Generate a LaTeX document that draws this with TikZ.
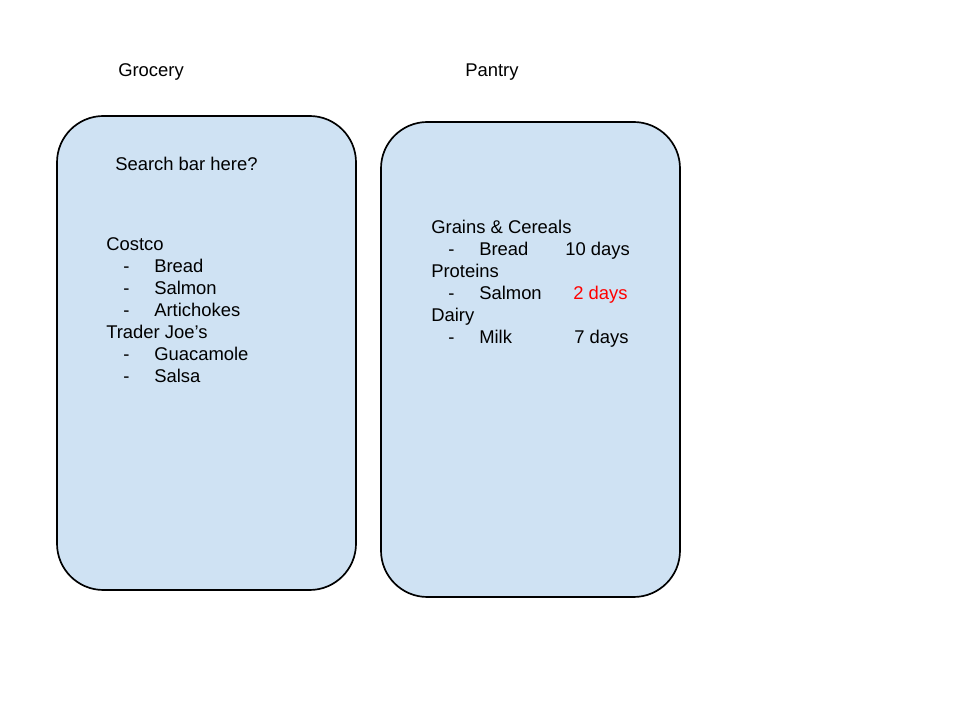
\documentclass[tikz,border=0pt]{standalone}
\usepackage{fontspec}
\setmainfont{Liberation Sans}
\usepackage{tikz}

\definecolor{panelblue}{HTML}{CFE2F3}
\definecolor{alertred}{HTML}{FF0000}

\begin{document}
\begin{tikzpicture}[x=0.025cm, y=-0.025cm,
    panel/.style={draw=black, line width=1.2pt, fill=panelblue, rounded corners=33pt},
    txt/.style={anchor=base west, inner sep=0pt, font=\fontsize{13.1}{15}\selectfont}]
            \useasboundingbox (0,0) rectangle (960,720);

            % Panels
            \draw[panel] (57,116) rectangle (356,590);
            \draw[panel] (381,122) rectangle (680,597);

            % Titles
            \node[txt] (grocery) at (118,77) {Grocery};
            \node[txt] (pantry) at (465,77) {Pantry};

            % Grocery list
            \node[txt] (search) at (115,171) {Search bar here?};
            \node[txt] (costco) at (106,251) {Costco};
            \node[txt] (d1) at (123,273) {-};
            \node[txt] (g1) at (154,273) {Bread};
            \node[txt] (d2) at (123,295) {-};
            \node[txt] (g2) at (154,295) {Salmon};
            \node[txt] (d3) at (123,317) {-};
            \node[txt] (g3) at (154,317) {Artichokes};
            \node[txt] (trader) at (106,339) {Trader Joe’s};
            \node[txt] (d4) at (123,361) {-};
            \node[txt] (g4) at (154,361) {Guacamole};
            \node[txt] (d5) at (123,383) {-};
            \node[txt] (g5) at (154,383) {Salsa};

            % Pantry list
            \node[txt] (grains) at (431,234) {Grains \& Cereals};
            \node[txt] (e1) at (448,256) {-};
            \node[txt] (p1) at (479,256) {Bread};
            \node[txt] (t1) at (565,256) {10 days};
            \node[txt] (proteins) at (431,278) {Proteins};
            \node[txt] (e2) at (448,300) {-};
            \node[txt] (p2) at (479,300) {Salmon};
            \node[txt, text=alertred] (t2) at (573,300) {2 days};
            \node[txt] (dairy) at (431,322) {Dairy};
            \node[txt] (e3) at (448,344) {-};
            \node[txt] (p3) at (479,344) {Milk};
            \node[txt] (t3) at (574,344) {7 days};
        \end{tikzpicture}
\end{document}
